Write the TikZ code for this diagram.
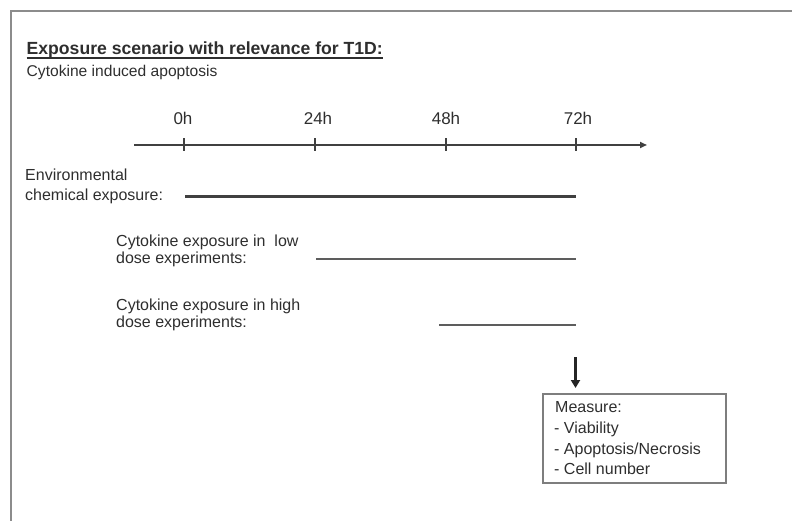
\documentclass[tikz,border=0pt]{standalone}
\usepackage{fontspec}
\setmainfont{Liberation Sans}
\usetikzlibrary{arrows.meta}
\definecolor{txt}{HTML}{2E2E2E}
\definecolor{frm}{HTML}{8C8C8C}
\definecolor{ln}{HTML}{404040}
\tikzset{
  lbl/.style={anchor=base west, inner sep=0pt, text=txt, font=\fontsize{16}{19}\selectfont},
  hlbl/.style={anchor=base, inner sep=0pt, text=txt, font=\fontsize{17}{20}\selectfont},
  boxtxt/.style={anchor=base west, inner sep=0pt, text=txt, font=\fontsize{16}{19}\selectfont},
  frameline/.style={draw=frm, line width=2pt},
  axisline/.style={draw=ln, line width=1.8pt, -{Triangle[length=7pt,width=6pt]}},
  tickline/.style={draw=ln, line width=1.3pt},
  exline/.style={draw=ln, line width=2.3pt},
  exlinegray/.style={draw=ln!85, line width=2pt},
  downarrow/.style={draw=black!85, line width=2.8pt, -{Triangle[length=8pt,width=9pt]}},
  measbox/.style={draw=frm!90!black, line width=1.8pt, minimum width=183pt, minimum height=89pt, inner sep=0pt}
}
\begin{document}
\begin{tikzpicture}[x=1pt,y=-1pt]
\useasboundingbox (0,0) rectangle (792,521);
% frame
\coordinate (fc) at (11,11);
\coordinate (ftr) at (792,11);
\coordinate (fbl) at (11,521);
\draw[frameline] (ftr) -- (fc) -- (fbl);
% title
\node[lbl, font=\fontsize{17.6}{21}\bfseries] (title) at (26.5,55) {Exposure scenario with relevance for T1D:};
\draw[draw=txt, line width=1.6pt] ([yshift=-3pt]title.base west) -- ([yshift=-3pt]title.base east);
\node[lbl, font=\fontsize{15.6}{19}\selectfont] (sub) at (26.5,77) {Cytokine induced apoptosis};
% axis
\coordinate (axs) at (134,145);
\coordinate (axe) at (647,145);
\draw[axisline] (axs) -- (axe);
\foreach \x/\n in {184/0,315/1,446/2,576/3}{
  \coordinate (tt\n) at (\x,138.5);
  \coordinate (tb\n) at (\x,151.5);
  \draw[tickline] (tt\n) -- (tb\n);
}
\node[hlbl] (h0) at (183,125) {0h};
\node[hlbl] (h24) at (318,125) {24h};
\node[hlbl] (h48) at (446,125) {48h};
\node[hlbl] (h72) at (578,125) {72h};
% environmental
\node[lbl] (env1) at (25,181) {Environmental};
\node[lbl] (env2) at (25,201) {chemical exposure:};
\coordinate (es) at (185,196.5);
\coordinate (ee) at (576,196.5);
\draw[exline] (es) -- (ee);
% low dose
\node[lbl] (low1) at (116,247) {Cytokine exposure in\ \ low};
\node[lbl] (low2) at (116,264) {dose experiments:};
\coordinate (ls) at (316,259);
\coordinate (le) at (576,259);
\draw[exlinegray] (ls) -- (le);
% high dose
\node[lbl] (high1) at (116,310.5) {Cytokine exposure in high};
\node[lbl] (high2) at (116,327) {dose experiments:};
\coordinate (hs) at (439,325);
\coordinate (he) at (576,325);
\draw[exlinegray] (hs) -- (he);
% arrow down
\coordinate (as) at (575.5,357);
\coordinate (ae) at (575.5,388);
\draw[downarrow] (as) -- (ae);
% measure box
\node[measbox] (box) at (634.3,438.7) {};
\node[boxtxt] (m1) at (555,412.7) {Measure:};
\node[boxtxt] (m2) at (554,433.5) {- Viability};
\node[boxtxt] (m3) at (554,454) {- Apoptosis/Necrosis};
\node[boxtxt] (m4) at (554,474.5) {- Cell number};
\end{tikzpicture}
\end{document}
